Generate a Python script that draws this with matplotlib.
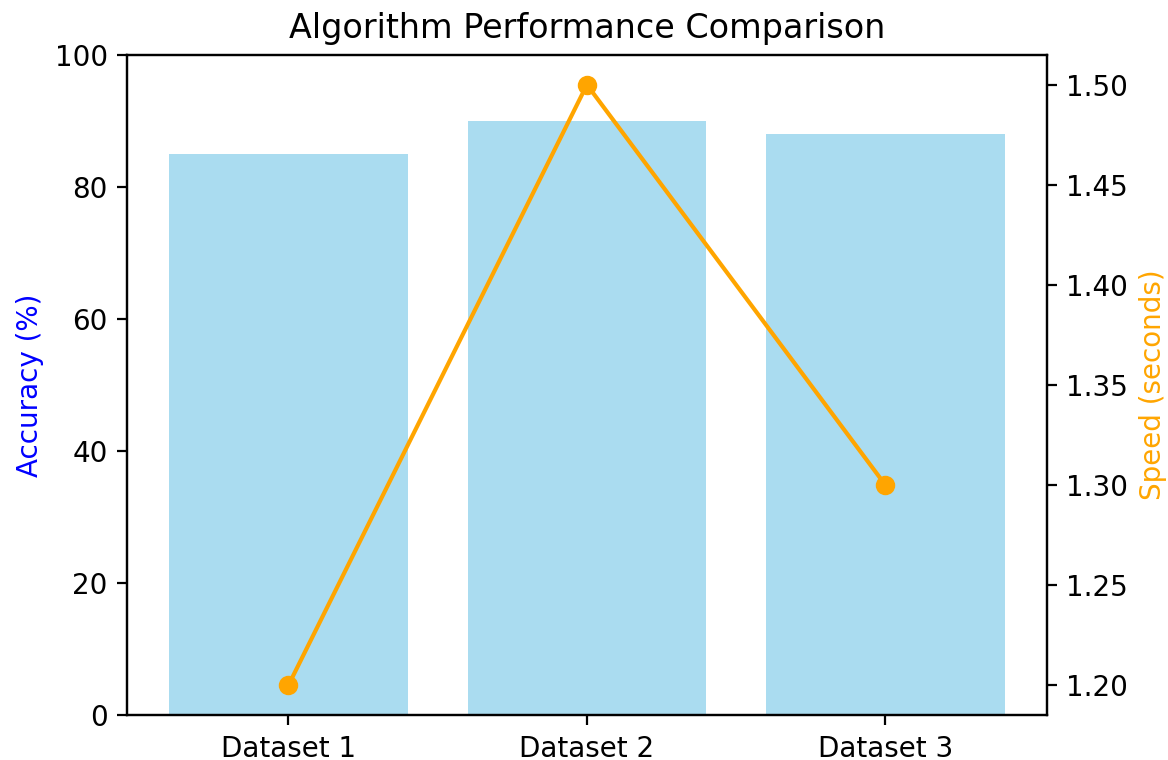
import matplotlib.pyplot as plt

datasets = ['Dataset 1', 'Dataset 2', 'Dataset 3']
accuracy = [85, 90, 88]
speed = [1.20, 1.50, 1.30]

fig, ax1 = plt.subplots(figsize=(5.84, 3.8), dpi=200)
fig.subplots_adjust(left=0.109, right=0.896, bottom=0.059, top=0.928)

ax1.bar(datasets, accuracy, color='skyblue', alpha=0.7)
ax1.set_ylabel('Accuracy (%)', color='blue')
ax1.set_ylim(0, 100)

ax2 = ax1.twinx()
ax2.plot(datasets, speed, color='orange', marker='o')
ax2.set_ylabel('Speed (seconds)', color='orange')

ax1.set_title('Algorithm Performance Comparison')

fig.savefig('out.png', dpi=200)
